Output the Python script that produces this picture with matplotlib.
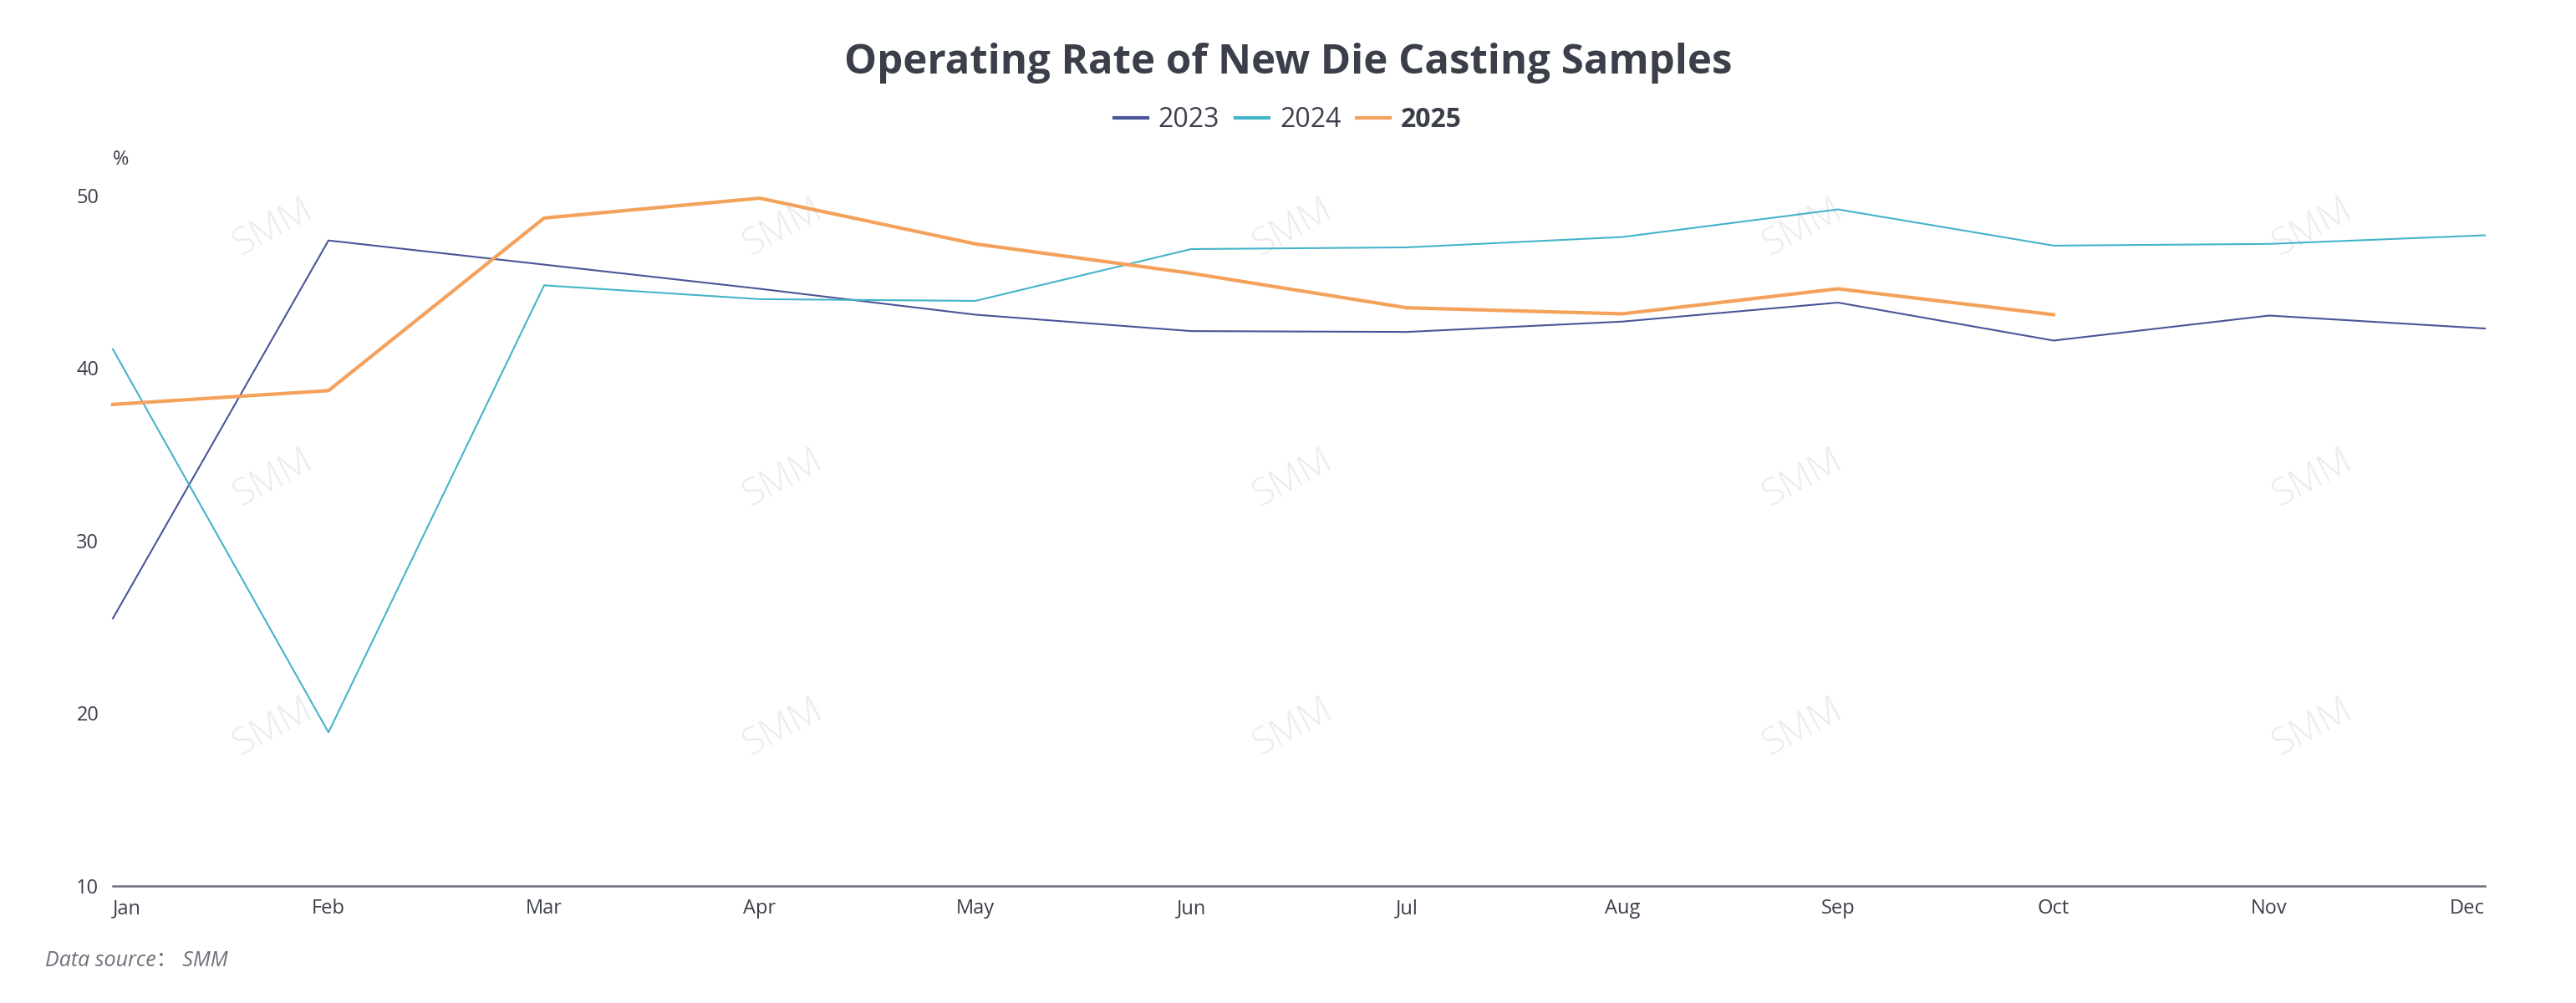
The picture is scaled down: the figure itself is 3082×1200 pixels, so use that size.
import matplotlib
matplotlib.use("Agg")
import matplotlib.pyplot as plt
from matplotlib.lines import Line2D

months = ["Jan", "Feb", "Mar", "Apr", "May", "Jun", "Jul", "Aug", "Sep", "Oct", "Nov", "Dec"]
y2023 = [25.5, 47.4, 46.0, 44.6, 43.1, 42.15, 42.1, 42.7, 43.8, 41.6, 43.05, 42.3]
y2024 = [41.1, 18.9, 44.8, 44.0, 43.9, 46.9, 47.0, 47.6, 49.2, 47.1, 47.2, 47.7]
y2025 = [37.9, 38.7, 48.7, 49.85, 47.2, 45.5, 43.5, 43.15, 44.6, 43.1]
series_names = ["2023", "2024", "2025"]
yticks = [10, 20, 30, 40, 50]

c2023 = "#4A5598"
c2024 = "#44B4C9"
c2025 = "#F4A25B"
txt = "#3B3F4A"
axis_c = "#6E7079"

plt.rcParams['font.family'] = ['Open Sans', 'Noto Sans CJK SC', 'DejaVu Sans']

W, H = 3082, 1200
fig = plt.figure(figsize=(W / 100, H / 100), dpi=100)
fig.patch.set_facecolor("white")

L, R, B, T = 135, 2973, 1060, 234
ax = fig.add_axes([L / W, 1 - B / H, (R - L) / W, (B - T) / H])
ax.set_facecolor("none")

x = list(range(len(months)))
ax.plot(x, y2023, color=c2023, lw=1.5, zorder=3, clip_on=False)
ax.plot(x, y2024, color=c2024, lw=1.5, zorder=3, clip_on=False)
ax.plot(x[:len(y2025)], y2025, color=c2025, lw=3.0, zorder=4, clip_on=False)

ax.set_xlim(0, len(months) - 1)
ax.set_ylim(10, 50)
ax.set_yticks(yticks)
ax.set_yticklabels([str(v) for v in yticks])
ax.set_xticks(x)
ax.set_xticklabels(months)
for s in ["top", "right", "left"]:
    ax.spines[s].set_visible(False)
ax.spines["bottom"].set_color(axis_c)
ax.spines["bottom"].set_linewidth(1.8)
ax.tick_params(axis="both", length=0, labelsize=17, colors=txt)
ax.tick_params(axis="y", pad=12)
ax.tick_params(axis="x", pad=11)
xl = ax.get_xticklabels()
xl[0].set_ha("left")
xl[-1].set_ha("right")

# watermarks
for wy in [272, 572, 870]:
    for wx in [327, 937, 1547, 2157, 2767]:
        ax.text(wx / W, 1 - wy / H, "SMM", transform=fig.transFigure, rotation=28,
                fontsize=32, fontweight="light", color="#EBEBEB", ha="center", va="center", zorder=0)

fig.text(0.5, 1 - 88 / H, "Operating Rate of New Die Casting Samples", ha="center",
         va="baseline", fontsize=35.4, fontweight="bold", color=txt)

handles = [Line2D([0], [0], color=c, lw=3) for c in [c2023, c2024, c2025]]
leg = fig.legend(handles, series_names, loc="center", bbox_to_anchor=(0.5, 1 - 144 / H),
                 ncol=3, frameon=False, fontsize=23, handlelength=1.25, handletextpad=0.4,
                 columnspacing=0.6, labelcolor=txt)
leg.get_texts()[2].set_fontweight("bold")

fig.text(L / W, 1 - 191 / H, "%", ha="left", va="center", fontsize=17, color=txt)
fig.text(54 / W, 1 - 1150 / H, "Data source： SMM", ha="left", va="center",
         fontsize=18, style="italic", color=axis_c)

fig.savefig("out.png", dpi=100, facecolor="white")
